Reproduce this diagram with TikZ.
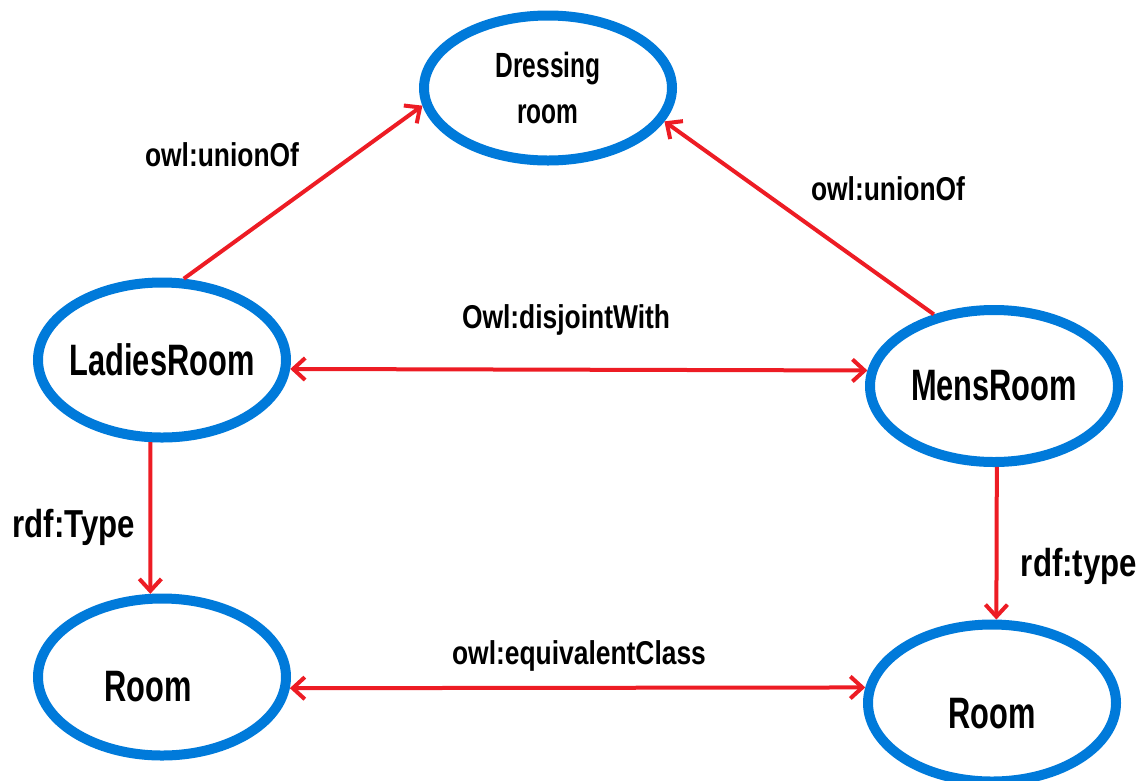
\documentclass[tikz,border=0pt]{standalone}
\usepackage{fontspec}
\newfontfamily\roomfont{Liberation Sans}[FakeStretch=0.7]
\newfontfamily\relfont{Liberation Sans}[FakeStretch=0.8]
\usetikzlibrary{shapes.geometric,arrows.meta}
\definecolor{ovalblue}{RGB}{0,122,218}
\definecolor{relred}{RGB}{237,28,36}

\begin{document}
\begin{tikzpicture}[x=1pt,y=-1pt]
\tikzstyle{every node}+=[inner sep=0pt]
\tikzstyle{room}=[ellipse,draw=ovalblue,line width=10pt,fill=white,align=center,minimum width=248pt,minimum height=152pt,font=\roomfont\bfseries\fontsize{44}{46}\selectfont]
\tikzstyle{rel}=[draw=relred,line width=4pt,-{Straight Barb[length=12pt,width=22pt]}]
\tikzstyle{twoway}=[rel,{Straight Barb[length=12pt,width=22pt]}-{Straight Barb[length=12pt,width=22pt]}]
\tikzstyle{rellabel}=[font=\relfont\bfseries\fontsize{33}{36}\selectfont]
\tikzstyle{typelabel}=[font=\relfont\bfseries\fontsize{39}{42}\selectfont]
\useasboundingbox (0,0) rectangle (1145,780);
\node [room,minimum height=145pt,font=\roomfont\bfseries\fontsize{35}{46}\selectfont] (dress) at (548,88) {\makebox[0pt]{Dressing}\\\makebox[0pt]{room}};
\node [room,minimum height=155pt] (ladies) at (162,360) {\makebox[0pt]{LadiesRoom}};
\node [room] (mens) at (994,386) {\makebox[0pt]{MensRoom}};
\node [room,minimum height=157pt] (roomL) at (162,677) {\makebox[0pt]{\raisebox{-9pt}[\height][0pt]{Room}\kern28pt}};
\node [room,minimum height=157pt] (roomR) at (992,703) {\makebox[0pt]{\raisebox{-10pt}[\height][0pt]{Room}}};
\draw [rel] (ladies.75) -- (dress.188);
\draw (222,155) node [rellabel] (unionL) {owl:unionOf};
\draw [rel] (mens.130) -- (dress.344);
\draw (888,189) node [rellabel] (unionR) {owl:unionOf};
\draw [twoway] (ladies.-4.4) -- (mens.173);
\draw (566,320) node [rellabel] (disjoint) {Owl:disjointWith};
\draw [rel] (ladies.262) -- (roomL.98);
\draw (74,527) node [typelabel] (typeL) {rdf:Type};
\draw [rel] (mens.272) -- (roomR.87);
\draw (1079,566) node [typelabel] (typeR) {rdf:type};
\draw [twoway] (roomL.-5) -- (roomR.173);
\draw (579,656) node [rellabel] (equiv) {owl:equivalentClass};
\end{tikzpicture}
\end{document}
